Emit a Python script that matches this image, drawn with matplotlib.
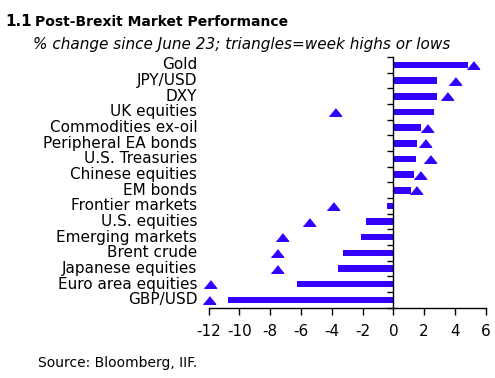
import matplotlib
matplotlib.use("Agg")
import matplotlib.pyplot as plt
import numpy as np

# Post-Brexit market performance, % change since June 23
categories = ["Gold", "JPY/USD", "DXY", "UK equities", "Commodities ex-oil",
              "Peripheral EA bonds", "U.S. Treasuries", "Chinese equities",
              "EM bonds", "Frontier markets", "U.S. equities", "Emerging markets",
              "Brent crude", "Japanese equities", "Euro area equities", "GBP/USD"]
change = [4.84, 2.86, 2.82, 2.65, 1.80, 1.54, 1.50, 1.32,
          1.13, -0.41, -1.80, -2.12, -3.25, -3.58, -6.26, -10.77]
extreme = [5.16, 4.01, 3.49, -3.79, 2.17, 2.06, 2.37, 1.71,
           1.45, -3.94, -5.48, -7.24, -7.58, -7.58, -11.92, -12.0]
xticks = [-12, -10, -8, -6, -4, -2, 0, 2, 4, 6]

blue = "#3300FF"
font = "DejaVu Sans"

fig = plt.figure(figsize=(4.95, 3.78), dpi=100)
ax = fig.add_axes([0.4216, 0.186, 0.5596, 0.663])

y = np.arange(len(categories))[::-1]
ax.barh(y, change, height=0.42, color=blue)
tri = [(-1, -0.62), (1, -0.62), (0, 0.62)]
ax.plot(extreme, y, linestyle="none", marker=tri, markersize=8.8, color=blue,
        clip_on=False)

ax.set_xlim(-12, 6)
ax.set_ylim(-0.5, len(categories) - 0.5)

for s in ["top", "right"]:
    ax.spines[s].set_visible(False)
ax.spines["left"].set_position(("data", 0))
ax.spines["left"].set_linewidth(1)
ax.spines["bottom"].set_linewidth(1)

# ticks on the zero line at category boundaries
ax.set_yticks(np.arange(-0.5, len(categories), 1))
ax.set_yticklabels([])
ax.tick_params(axis="y", length=4, width=1, direction="out")
ax.set_xticks(xticks)
ax.set_xticklabels([str(t) for t in xticks], fontsize=11, family=font)
ax.tick_params(axis="x", length=5, width=1, direction="out", pad=7)

# category labels at the left
for yi, name in zip(y, categories):
    ax.text(-12.75, yi, name, ha="right", va="center", fontsize=11,
            family=font, transform=ax.transData)

fig.text(0.01, 0.93, "1.1", fontsize=11, fontweight="bold", family=font)
fig.text(0.07, 0.93, "Post-Brexit Market Performance", fontsize=10,
         fontweight="bold", family=font)
fig.text(0.067, 0.87, "% change since June 23; triangles=week highs or lows",
         fontsize=11, style="italic", family=font)
fig.text(0.077, 0.03, "Source: Bloomberg, IIF.", fontsize=10, family=font)

fig.savefig("out.png", dpi=100)
